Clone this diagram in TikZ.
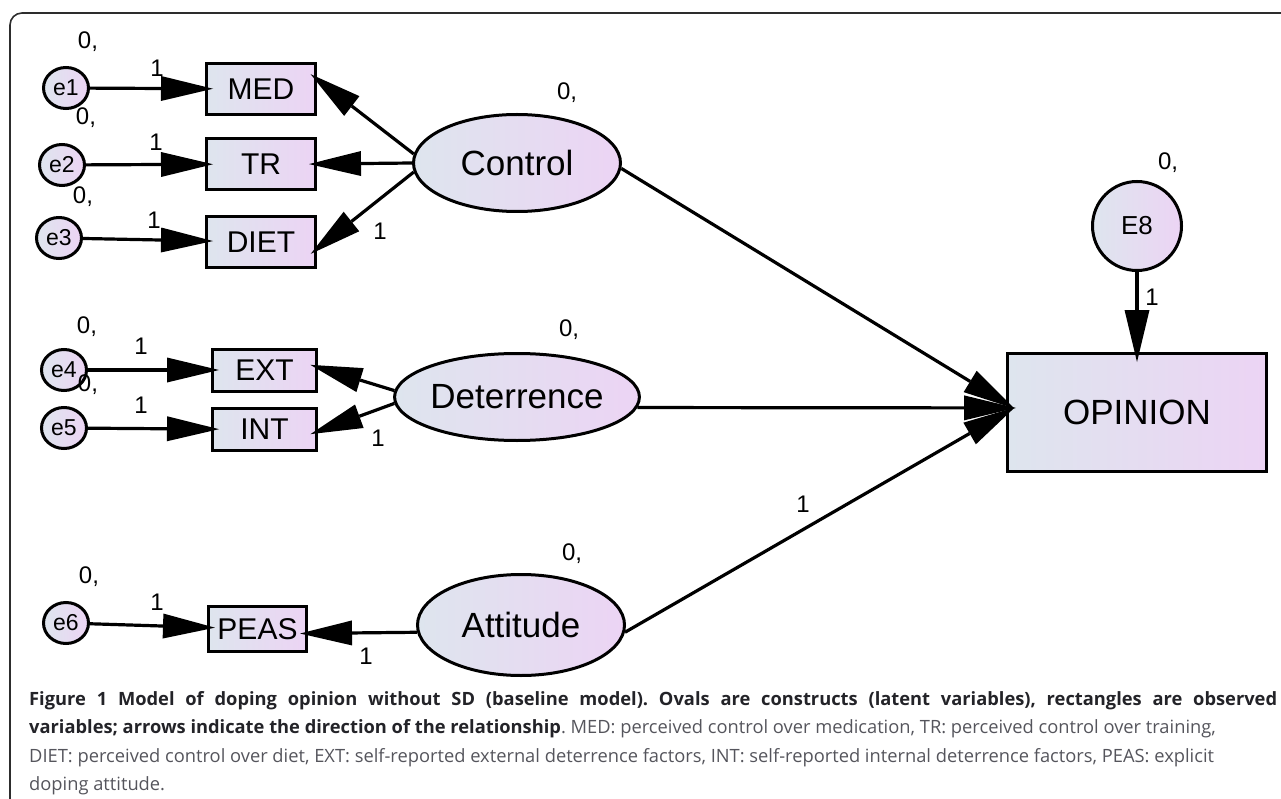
\documentclass[tikz,border=0pt]{standalone}
\usepackage{fontspec}
\setmainfont{Liberation Sans}
\newfontfamily\capfont{Open Sans}
\usetikzlibrary{shapes.geometric,arrows.meta}
\definecolor{gA}{RGB}{222,229,238}
\definecolor{gB}{RGB}{236,212,244}
\definecolor{capbold}{RGB}{35,35,40}
\definecolor{capreg}{RGB}{85,85,92}
\definecolor{framec}{RGB}{45,45,45}
\frenchspacing
\begin{document}
\begin{tikzpicture}[x=1pt,y=-1pt,
  grad/.style={draw=black,line width=3pt,left color=gA,right color=gB},
  errc/.style={grad,ellipse,inner sep=0pt,minimum width=45pt,minimum height=41pt,font=\fontsize{23}{26}\selectfont},
  obsbox/.style={grad,rectangle,inner sep=0pt,font=\fontsize{30}{34}\selectfont},
  latent/.style={grad,ellipse,inner sep=0pt,font=\fontsize{35}{40}\selectfont},
  lbl/.style={inner sep=0pt,font=\fontsize{24}{28}\selectfont},
  arr/.style={line width=3.2pt,-{Triangle[length=52pt,width=25pt,line width=0pt]},shorten >=-8pt},
  capline/.style={inner sep=0pt,anchor=base west,font=\capfont\fontsize{18.3}{22}\selectfont,text=capreg},
]
\useasboundingbox (0,0) rectangle (1281,799);
\draw[framec,line width=1.6pt,rounded corners=12pt] (10,799) -- (10,13) -- (1281,13);

% error terms
\node[errc] (e1) at (66,88) {e1};
\node[errc] (e2) at (62,165) {e2};
\node[errc] (e3) at (59,238) {e3};
\node[errc] (e4) at (64,370) {e4};
\node[errc] (e5) at (64,428) {e5};
\node[errc] (e6) at (66,623) {e6};

% observed variables
\node[obsbox,minimum width=109pt,minimum height=51pt] (MED) at (261,89) {MED};
\node[obsbox,minimum width=109pt,minimum height=51pt] (TR) at (261,164) {TR};
\node[obsbox,minimum width=109pt,minimum height=51pt] (DIET) at (261,242) {DIET};
\node[obsbox,minimum width=104pt,minimum height=42pt] (EXT) at (264.5,370) {EXT};
\node[obsbox,minimum width=104pt,minimum height=42pt] (INT) at (264.5,429.5) {INT};
\node[obsbox,minimum width=98pt,minimum height=45pt] (PEAS) at (257.5,629) {PEAS};

% latent variables
\node[latent,minimum width=207pt,minimum height=97pt] (Control) at (517,163) {Control};
\node[latent,minimum width=215pt,minimum height=87pt] (Deterrence) at (517,397) {Deterrence};
\node[latent,minimum width=207pt,minimum height=101pt] (Attitude) at (521,625) {Attitude};

% outcome
\node[grad,circle,inner sep=0pt,minimum size=89pt,font=\fontsize{26}{30}\selectfont] (E8) at (1137,226) {E8};
\node[obsbox,minimum width=259pt,minimum height=118pt,font=\fontsize{35}{40}\selectfont] (OPINION) at (1137,412.5) {OPINION};

% arrows from error terms
\draw[arr] (e1) -- (MED);
\draw[arr] (e2) -- (TR);
\draw[arr] (e3) -- (DIET);
\draw[arr] (e4) -- (EXT);
\draw[arr] (e5) -- (INT);
\draw[arr] (e6) -- (PEAS);

% loadings
\draw[arr] (Control.175) -- (MED.10);
\draw[arr] (Control.west) -- (TR.east);
\draw[arr] (Control.185) -- (DIET.-7);
\draw[arr] (Deterrence.177) -- (EXT.3);
\draw[arr] (Deterrence.183) -- (INT.-2);
\draw[arr] (Attitude.184) -- (PEAS.-5);

% structural paths
\draw[arr,shorten >=-10pt] (Control.-3) -- (OPINION.176);
\draw[arr,shorten >=-10pt] (Deterrence.-5) -- (OPINION.178);
\draw[arr,shorten >=-10pt] (Attitude.-4) -- (OPINION.west);
\draw[arr,shorten >=-10pt] (E8) -- (OPINION);

% labels
\node[lbl] (z1) at (88,42) {0,};
\node[lbl] (o1) at (157,68) {1};
\node[lbl] (z2) at (86,118) {0,};
\node[lbl] (o2) at (156,142) {1};
\node[lbl] (z3) at (83,197) {0,};
\node[lbl] (o3) at (154,220) {1};
\node[lbl] (oD) at (380,231) {1};
\node[lbl] (zC) at (567,93) {0,};
\node[lbl] (z4) at (87,327) {0,};
\node[lbl] (o4) at (141,346) {1};
\node[lbl] (z5) at (88,385) {0,};
\node[lbl] (o5) at (141,405) {1};
\node[lbl] (oI) at (378,438) {1};
\node[lbl] (zD) at (569,330) {0,};
\node[lbl] (z6) at (89,577) {0,};
\node[lbl] (o6) at (157,602) {1};
\node[lbl] (oP) at (366,656) {1};
\node[lbl] (zA) at (572,554) {0,};
\node[lbl] (oA) at (803,504) {1};
\node[lbl] (zE) at (1168,163) {0,};
\node[lbl] (oE) at (1152,297) {1};

% caption
\node[capline,text=capbold] (cap1) at (29,705) {\makebox[1248pt][s]{\bfseries Figure 1 Model of doping opinion without SD (baseline model). Ovals are constructs (latent variables), rectangles are observed}};
\node[capline] (cap2) at (29,733.5) {{\bfseries\color{capbold}variables; arrows indicate the direction of the relationship}. MED: perceived control over medication, TR: perceived control over training,};
\node[capline] (cap3) at (29,762) {DIET: perceived control over diet, EXT: self-reported external deterrence factors, INT: self-reported internal deterrence factors, PEAS: explicit};
\node[capline] (cap4) at (29,790) {doping attitude.};
\end{tikzpicture}
\end{document}
